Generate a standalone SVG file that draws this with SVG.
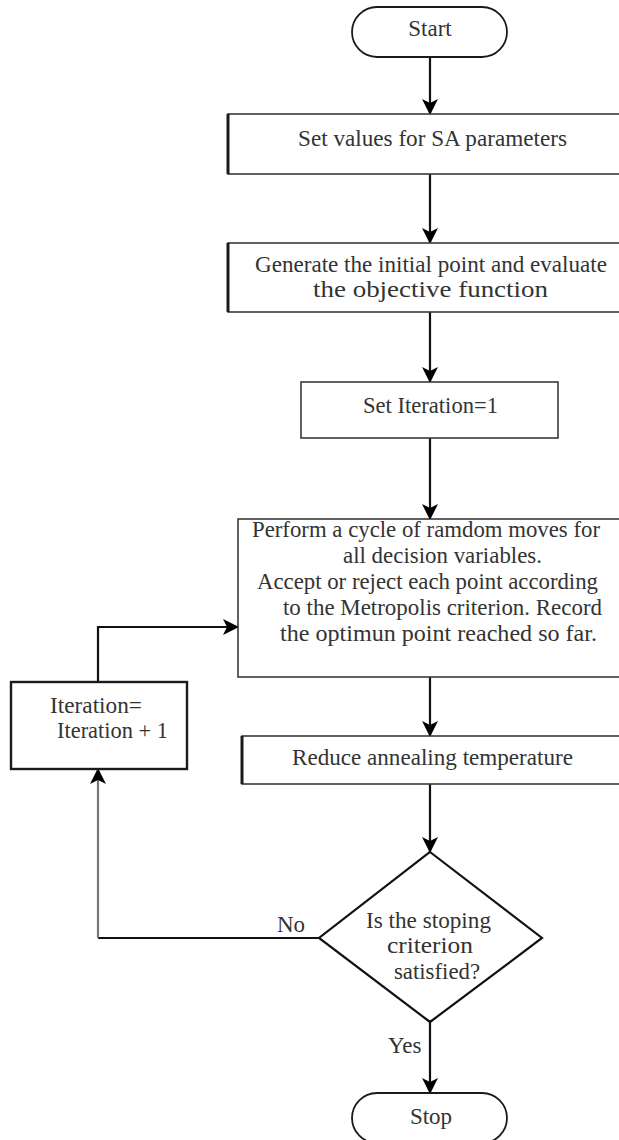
<svg xmlns="http://www.w3.org/2000/svg" width="619" height="1140" viewBox="0 0 619 1140">
<style>
  .box { fill: #ffffff; stroke: #3a3a3a; stroke-width: 1.6; }
  .lft { stroke: #1a1a1a; stroke-width: 3; }
  .term { fill: #ffffff; stroke: #1a1a1a; stroke-width: 1.8; }
  .dia { fill: #ffffff; stroke: #111; stroke-width: 2.2; }
  .t { font-family: "Liberation Serif", "Times New Roman", serif; font-size: 23px; fill: #333; }
  .m { text-anchor: middle; }
  .c { fill: none; stroke: #111; stroke-width: 2.2; }
  .g { fill: none; stroke: #777; stroke-width: 2.2; }
</style>
<defs>
  <marker id="ah" viewBox="0 0 16 16" refX="15" refY="8" markerWidth="16" markerHeight="16" markerUnits="userSpaceOnUse" orient="auto">
    <path d="M0,0 L16,8 L0,16 L4,8 Z" fill="#000"/>
  </marker>
</defs>
<rect width="619" height="1140" fill="#ffffff"/>

<g id="connectors">
  <line class="c" x1="430" y1="57" x2="430" y2="114" marker-end="url(#ah)"/>
  <line class="c" x1="430" y1="174" x2="430" y2="243" marker-end="url(#ah)"/>
  <line class="c" x1="430" y1="312" x2="430" y2="382" marker-end="url(#ah)"/>
  <line class="c" x1="430" y1="438" x2="430" y2="519" marker-end="url(#ah)"/>
  <line class="c" x1="430" y1="677" x2="430" y2="736" marker-end="url(#ah)"/>
  <line class="c" x1="430" y1="784" x2="430" y2="852" marker-end="url(#ah)"/>
  <line class="c" x1="430" y1="1022" x2="430" y2="1093" marker-end="url(#ah)"/>
  <polyline class="c" points="319,938 98,938"/>
  <line class="g" x1="98" y1="938" x2="98" y2="769" marker-end="url(#ah)"/>
  <polyline class="c" points="98,682 98,627 238,627" marker-end="url(#ah)"/>
  <text class="t" x="277" y="932">No</text>
  <text class="t" x="388" y="1053">Yes</text>
</g>

<g id="start">
  <rect class="term" x="352" y="7" width="155" height="50" rx="25" ry="25"/>
  <text class="t m" x="430" y="36">Start</text>
</g>

<g id="set-params">
  <rect class="box" x="228" y="114" width="400" height="60"/>
  <line class="lft" x1="228" y1="114" x2="228" y2="174"/>
  <text class="t m" x="432.5" y="146" textLength="269" lengthAdjust="spacingAndGlyphs">Set values for SA parameters</text>
</g>

<g id="initial-point">
  <rect class="box" x="228" y="243" width="400" height="69"/>
  <line class="lft" x1="228" y1="243" x2="228" y2="312"/>
  <text class="t m" x="431" y="272" textLength="352" lengthAdjust="spacingAndGlyphs">Generate the initial point and evaluate</text>
  <text class="t m" x="430.5" y="297" textLength="235" lengthAdjust="spacingAndGlyphs">the objective function</text>
</g>

<g id="set-iteration">
  <rect class="box" x="301" y="382" width="257" height="56"/>
  <text class="t m" x="430.5" y="413" textLength="135" lengthAdjust="spacingAndGlyphs">Set Iteration=1</text>
</g>

<g id="perform-cycle">
  <rect class="box" x="238" y="519" width="390" height="158"/>
  <text class="t m" x="426" y="537" textLength="348" lengthAdjust="spacingAndGlyphs">Perform a cycle of ramdom moves for</text>
  <text class="t m" x="442.5" y="563" textLength="199" lengthAdjust="spacingAndGlyphs">all decision variables.</text>
  <text class="t m" x="427.5" y="589" textLength="341" lengthAdjust="spacingAndGlyphs">Accept or reject each point according</text>
  <text class="t m" x="442.5" y="615" textLength="319" lengthAdjust="spacingAndGlyphs">to the Metropolis criterion. Record</text>
  <text class="t m" x="438.5" y="641" textLength="317" lengthAdjust="spacingAndGlyphs">the optimun point reached so far.</text>
</g>

<g id="iteration-increment">
  <rect class="box" x="11" y="682" width="176" height="87" style="stroke:#1a1a1a;stroke-width:2.4"/>
  <text class="t" x="50" y="713" textLength="92" lengthAdjust="spacingAndGlyphs">Iteration=</text>
  <text class="t" x="57" y="738" textLength="111" lengthAdjust="spacingAndGlyphs">Iteration + 1</text>
</g>

<g id="reduce-temp">
  <rect class="box" x="242" y="736" width="386" height="48"/>
  <line class="lft" x1="242" y1="736" x2="242" y2="784"/>
  <text class="t m" x="432.5" y="765" textLength="281" lengthAdjust="spacingAndGlyphs">Reduce annealing temperature</text>
</g>

<g id="stop-criterion">
  <polygon class="dia" points="430,852 542,938 430,1022 319,938"/>
  <text class="t m" x="428.5" y="928" textLength="125" lengthAdjust="spacingAndGlyphs">Is the stoping</text>
  <text class="t m" x="430" y="953" textLength="86" lengthAdjust="spacingAndGlyphs">criterion</text>
  <text class="t m" x="437" y="979" textLength="86" lengthAdjust="spacingAndGlyphs">satisfied?</text>
</g>

<g id="stop">
  <rect class="term" x="352" y="1093" width="155" height="50" rx="25" ry="25"/>
  <text class="t m" x="431" y="1124">Stop</text>
</g>
</svg>
